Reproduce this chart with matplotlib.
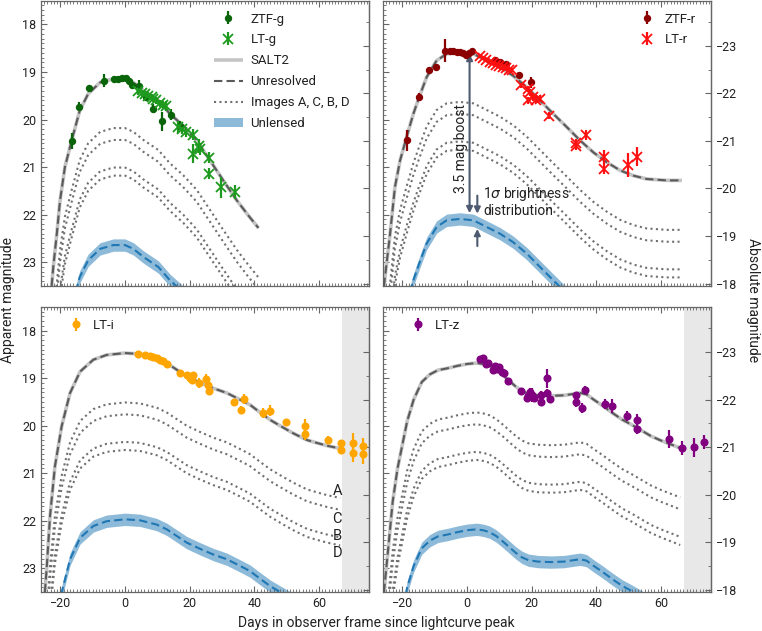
import numpy as np
import matplotlib
matplotlib.use('Agg')
import matplotlib.pyplot as plt
from matplotlib.ticker import MultipleLocator

plt.rcParams['font.family'] = ['Roboto', 'DejaVu Sans']
plt.rcParams['axes.unicode_minus'] = True

# ---- model curves (unresolved / SALT2) ----
g_day = [-22.7, -22.2, -21.1, -20.1, -18.6, -16.5, -14.0, -11.4, -7.7, -3.6, 0.0, 2.6, 5.7,
         10.3, 13.9, 18.0, 22.2, 26.3, 30.4, 34.6, 38.2, 41.3]
g_mag = [23.5, 23.1, 22.4, 21.7, 21.0, 20.44, 19.81, 19.46, 19.22, 19.14, 19.14, 19.22, 19.39,
         19.6, 19.88, 20.13, 20.44, 20.86, 21.28, 21.7, 22.02, 22.28]

r_day = [-25.7, -23.8, -22.3, -20.7, -18.7, -16.6, -14.8, -12.5, -9.4, -6.3, -2.2, 2.0, 6.1,
         10.2, 14.3, 18.5, 22.6, 26.7, 30.9, 35.0, 39.1, 43.3, 47.4, 51.5, 55.6, 61.8, 66.5]
r_mag = [23.5, 22.4, 21.42, 20.86, 20.37, 19.88, 19.53, 19.11, 18.76, 18.62, 18.59, 18.62, 18.76,
         18.9, 19.08, 19.32, 19.6, 19.88, 20.16, 20.44, 20.69, 20.9, 21.07, 21.18, 21.25, 21.28, 21.28]

i_day = [-24.8, -24.2, -23.2, -21.7, -19.6, -17.0, -13.9, -9.8, -5.7, 0.0, 4.6, 9.8, 12.9,
         16.0, 19.1, 23.2, 27.3, 31.5, 35.6, 38.7, 41.8, 45.0, 49.0, 52.1, 56.3, 59.3, 62.5, 66.6]
i_mag = [23.5, 22.96, 21.9, 20.86, 20.01, 19.31, 18.86, 18.61, 18.51, 18.47, 18.49, 18.58, 18.68,
         18.82, 18.96, 19.09, 19.21, 19.31, 19.45, 19.56, 19.72, 19.88, 20.04, 20.16, 20.3, 20.36,
         20.42, 20.48]

z_day = [-25.7, -24.4, -23.0, -21.5, -20.0, -18.5, -16.5, -14.0, -11.5, -9.0, -6.0, -3.0, 0.0,
         3.0, 5.0, 7.0, 9.0, 11.0, 13.0, 15.0, 17.0, 19.0, 22.0, 26.0, 30.0, 33.0, 35.0, 37.0,
         39.0, 42.0, 45.0, 48.0, 51.0, 54.0, 57.0, 60.0, 63.0, 66.0]
z_mag = [23.5, 22.6, 21.6, 20.9, 20.4, 19.9, 19.45, 19.08, 18.92, 18.83, 18.79, 18.74, 18.7,
         18.68, 18.7, 18.74, 18.82, 18.93, 19.05, 19.17, 19.27, 19.33, 19.36, 19.37, 19.36, 19.33,
         19.31, 19.34, 19.44, 19.58, 19.73, 19.87, 19.98, 20.1, 20.22, 20.31, 20.39, 20.47]

# images A, C, B, D are fainter than the unresolved curve by these amounts
image_names = ['A', 'C', 'B', 'D']
image_offsets = [1.04, 1.29, 1.87, 2.04]
image_label_day = 65.7
image_label_mag = [21.38, 21.96, 22.33, 22.68]
lens_boost = 3.5      # mag boost, unresolved -> unlensed
lens_sigma = 0.13     # 1 sigma brightness spread
dist_offset = 41.45   # apparent - absolute

# ---- photometry ----
ztf_g_day = [-16.3, -14.2, -11.2, -6.4, -3.5, -2.3, -1.0, 0.3, 1.3, 2.2, 4.4, 6.5, 8.6, 11.4, 14.3, 17.0]
ztf_g_mag = [20.46, 19.73, 19.34, 19.18, 19.14, 19.14, 19.12, 19.13, 19.18, 19.28, 19.29, 19.53,
             19.77, 20.04, 19.9, 20.13]
ztf_g_err = [0.17, 0.1, 0.07, 0.14, 0.06, 0.05, 0.05, 0.05, 0.05, 0.06, 0.12, 0.08, 0.1, 0.2, 0.12, 0.1]

lt_g_day = [4.1, 5.2, 6.2, 7.2, 8.2, 8.7, 9.7, 10.8, 11.8, 12.6, 16.5, 17.5, 19.0, 21.0, 23.0,
            23.2, 21.0, 26.0, 26.0, 29.8, 34.0]
lt_g_mag = [19.4, 19.45, 19.46, 19.5, 19.53, 19.56, 19.6, 19.66, 19.7, 19.72, 20.16, 20.2, 20.26,
            20.32, 20.55, 20.62, 20.72, 20.8, 21.14, 21.42, 21.53]
lt_g_err = [0.08, 0.07, 0.07, 0.08, 0.07, 0.08, 0.08, 0.08, 0.08, 0.1, 0.12, 0.1, 0.1, 0.12, 0.15,
            0.12, 0.2, 0.12, 0.12, 0.22, 0.15]

ztf_r_day = [-18.7, -14.8, -11.7, -9.7, -6.8, -5.3, -4.2, -3.2, -2.2, -1.1, -0.3, 0.6, 1.5, 8.7,
             10.2, 12.0, 16.1, 19.9]
ztf_r_mag = [20.44, 19.53, 18.95, 18.9, 18.55, 18.56, 18.56, 18.57, 18.58, 18.61, 18.64, 18.6,
             18.56, 18.75, 18.78, 18.83, 19.06, 19.22]
ztf_r_err = [0.22, 0.08, 0.05, 0.07, 0.25, 0.03, 0.03, 0.03, 0.03, 0.03, 0.03, 0.03, 0.03, 0.04,
             0.04, 0.04, 0.06, 0.12]

lt_r_day = [4.0, 5.0, 6.0, 7.0, 8.0, 9.0, 10.0, 11.0, 12.0, 13.0, 14.0, 16.7, 18.8, 19.4, 18.8,
            20.5, 21.5, 22.5, 25.5, 33.7, 33.7, 36.7, 42.5, 42.5, 49.7, 52.5]
lt_r_mag = [18.66, 18.7, 18.74, 18.78, 18.82, 18.85, 18.87, 18.9, 18.92, 18.95, 18.96, 19.28, 19.36,
            19.43, 19.6, 19.53, 19.58, 19.56, 19.92, 20.5, 20.55, 20.33, 20.78, 21.03, 20.95, 20.78]
lt_r_err = [0.04, 0.04, 0.04, 0.04, 0.04, 0.04, 0.04, 0.04, 0.04, 0.04, 0.04, 0.05, 0.06, 0.07,
            0.08, 0.08, 0.07, 0.07, 0.07, 0.08, 0.09, 0.1, 0.14, 0.12, 0.25, 0.2]

lt_i_day = [4.1, 6.2, 7.7, 8.8, 9.8, 10.8, 11.9, 12.9, 17.0, 19.1, 20.1, 20.9, 20.6, 23.0, 25.1,
            25.8, 25.9, 33.8, 35.9, 36.9, 42.8, 44.9, 49.7, 55.7, 55.7, 62.7, 66.7, 66.7, 70.5,
            70.5, 73.6, 73.6]
lt_i_mag = [18.49, 18.51, 18.54, 18.56, 18.58, 18.61, 18.63, 18.7, 18.89, 18.93, 19.0, 18.94,
            19.03, 19.1, 19.02, 19.15, 19.26, 19.5, 19.66, 19.44, 19.73, 19.68, 19.93, 20.0, 20.18,
            20.29, 20.37, 20.52, 20.36, 20.57, 20.43, 20.6]
lt_i_err = [0.03, 0.03, 0.03, 0.03, 0.03, 0.03, 0.03, 0.03, 0.05, 0.06, 0.08, 0.08, 0.08, 0.1,
            0.1, 0.08, 0.08, 0.07, 0.07, 0.1, 0.1, 0.12, 0.08, 0.15, 0.12, 0.08, 0.08, 0.08, 0.2,
            0.2, 0.18, 0.2]

lt_z_day = [4.0, 4.8, 5.9, 6.6, 8.2, 8.7, 9.4, 10.0, 10.7, 11.5, 12.8, 16.6, 18.7, 19.0, 19.5,
            20.0, 20.6, 22.8, 22.8, 24.9, 24.9, 25.7, 33.7, 33.7, 35.7, 36.6, 42.7, 44.8, 49.4,
            52.5, 52.5, 62.5, 66.5, 70.4, 73.5]
lt_z_mag = [18.59, 18.57, 18.7, 18.68, 18.82, 18.75, 18.8, 18.77, 18.86, 18.9, 19.06, 19.26, 19.42,
            19.37, 19.3, 19.35, 19.42, 19.35, 19.49, 19.0, 19.31, 19.44, 19.36, 19.5, 19.63, 19.24,
            19.54, 19.59, 19.8, 19.87, 20.07, 20.28, 20.47, 20.45, 20.34]
lt_z_err = [0.05, 0.05, 0.05, 0.05, 0.06, 0.05, 0.05, 0.05, 0.05, 0.05, 0.06, 0.06, 0.08, 0.08,
            0.1, 0.15, 0.08, 0.08, 0.06, 0.2, 0.08, 0.06, 0.07, 0.1, 0.1, 0.08, 0.1, 0.15, 0.1,
            0.12, 0.1, 0.18, 0.15, 0.2, 0.15]

XLIM = (-26.0, 75.5)
YLIM = (23.5, 17.5)
SHADE_START = 67.2
TXT = '#222222'
FRAME = '#666666'
BLUE = '#1f77b4'

fig = plt.figure(figsize=(7.62, 6.31), dpi=100)
ax_g = fig.add_axes([0.0538, 0.5468, 0.4304, 0.4522])
ax_r = fig.add_axes([0.5026, 0.5468, 0.4304, 0.4522])
ax_i = fig.add_axes([0.0538, 0.0618, 0.4304, 0.4517])
ax_z = fig.add_axes([0.5026, 0.0618, 0.4304, 0.4517])


def draw_models(ax, day, mag):
    day = np.array(day)
    mag = np.array(mag)
    ax.plot(day, mag, color='#c4c4c4', lw=2.6, solid_capstyle='butt', zorder=2, label='SALT2')
    ax.plot(day, mag, color='#5a5a5a', lw=1.5, ls=(0, (4, 2)), zorder=3, label='Unresolved')
    for k, off in enumerate(image_offsets):
        ax.plot(day, mag + off, color='#707070', lw=1.5, ls=(0, (1, 1.6)), zorder=2,
                label='Images A, C, B, D' if k == 0 else None)
    ax.fill_between(day, mag + lens_boost - lens_sigma, mag + lens_boost + lens_sigma,
                    color=BLUE, alpha=0.5, lw=0, zorder=1, label='Unlensed')
    ax.plot(day, mag + lens_boost, color=BLUE, lw=1.5, ls=(0, (4, 2)), zorder=2)


def data(ax, day, mag, err, color, marker, label, ms):
    return ax.errorbar(day, mag, yerr=err, fmt=marker, color=color, ms=ms, mew=1.3,
                       elinewidth=1.6, capsize=0, zorder=5, label=label)


def style(ax, left_col, top_row):
    ax.set_xlim(*XLIM)
    ax.set_ylim(*YLIM)
    ax.xaxis.set_major_locator(MultipleLocator(20))
    ax.xaxis.set_minor_locator(MultipleLocator(1))
    ax.yaxis.set_minor_locator(MultipleLocator(0.1))
    ax.set_yticks([18, 19, 20, 21, 22, 23])
    ax.tick_params(which='both', direction='in', top=True, right=False, color=FRAME,
                   labelcolor=TXT, labelsize=9)
    ax.tick_params(which='major', length=4)
    ax.tick_params(which='minor', length=2)
    if top_row:
        ax.tick_params(labelbottom=False)
    if not left_col:
        ax.tick_params(labelleft=False)
    for sp in ax.spines.values():
        sp.set_color(FRAME)
        sp.set_linewidth(0.9)
    sec = ax.secondary_yaxis('right', functions=(lambda m: m - dist_offset,
                                                 lambda a: a + dist_offset))
    sec.set_yticks([-23, -22, -21, -20, -19, -18])
    sec.yaxis.set_minor_locator(MultipleLocator(0.5))
    sec.tick_params(which='both', direction='in', color=FRAME, labelcolor=TXT, labelsize=9)
    sec.tick_params(which='major', length=4)
    sec.tick_params(which='minor', length=2)
    sec.spines['right'].set_color(FRAME)
    sec.spines['right'].set_linewidth(0.9)
    if left_col:
        sec.tick_params(labelright=False)


# g band
draw_models(ax_g, g_day, g_mag)
data(ax_g, ztf_g_day, ztf_g_mag, ztf_g_err, '#0a640a', 'o', 'ZTF-g', 4)
data(ax_g, lt_g_day, lt_g_mag, lt_g_err, '#1e9a1e', 'x', 'LT-g', 6.5)
hs, ls = ax_g.get_legend_handles_labels()
order = ['ZTF-g', 'LT-g', 'SALT2', 'Unresolved', 'Images A, C, B, D', 'Unlensed']
hmap = dict(zip(ls, hs))
ax_g.legend([hmap[o] for o in order], order, loc='upper left', bbox_to_anchor=(0.49, 1.0),
            frameon=False, fontsize=9.5, handlelength=2.2, labelspacing=0.6,
            handletextpad=0.6, labelcolor=TXT)

# r band
draw_models(ax_r, r_day, r_mag)
data(ax_r, ztf_r_day, ztf_r_mag, ztf_r_err, '#8b0000', 'o', 'ZTF-r', 4)
data(ax_r, lt_r_day, lt_r_mag, lt_r_err, '#ff1010', 'x', 'LT-r', 6.5)
hs, ls = ax_r.get_legend_handles_labels()
hmap = dict(zip(ls, hs))
ax_r.legend([hmap['ZTF-r'], hmap['LT-r']], ['ZTF-r', 'LT-r'], loc='upper left',
            bbox_to_anchor=(0.73, 1.0), frameon=False, fontsize=9.5, labelspacing=0.6,
            handletextpad=0.3, labelcolor=TXT)

ARROW = '#4d5a70'
ax_r.annotate('', xy=(0.8, 21.97), xytext=(0.8, 18.62),
              arrowprops=dict(arrowstyle='<|-|>', color=ARROW, lw=1.5, shrinkA=0, shrinkB=0,
                              mutation_scale=9))
ax_r.text(-1.8, 20.6, '3.5 mag boost', rotation=90, ha='center', va='center', fontsize=10,
          color=TXT)
ax_r.annotate('', xy=(3.2, 21.98), xytext=(3.2, 21.6),
              arrowprops=dict(arrowstyle='-|>', color=ARROW, lw=1.5, shrinkA=0, shrinkB=0,
                              mutation_scale=9))
ax_r.annotate('', xy=(3.2, 22.3), xytext=(3.2, 22.66),
              arrowprops=dict(arrowstyle='-|>', color=ARROW, lw=1.5, shrinkA=0, shrinkB=0,
                              mutation_scale=9))
ax_r.text(5.0, 21.72, '1$\\sigma$ brightness\ndistribution', ha='left', va='center',
          fontsize=10, color=TXT, linespacing=1.1)

# i band
ax_i.axvspan(SHADE_START, XLIM[1], color='#e8e8e8', lw=0, zorder=0)
draw_models(ax_i, i_day, i_mag)
data(ax_i, lt_i_day, lt_i_mag, lt_i_err, '#ffa500', 'o', 'LT-i', 4.5)
hs, ls = ax_i.get_legend_handles_labels()
hmap = dict(zip(ls, hs))
ax_i.legend([hmap['LT-i']], ['LT-i'], loc='upper left', bbox_to_anchor=(0.03, 1.0),
            frameon=False, fontsize=9.5, handletextpad=0.3, labelcolor=TXT)
for name, ym in zip(image_names, image_label_mag):
    ax_i.text(image_label_day, ym, name, ha='center', va='center', fontsize=10.5, color=TXT,
              zorder=6)

# z band
ax_z.axvspan(SHADE_START, XLIM[1], color='#e8e8e8', lw=0, zorder=0)
draw_models(ax_z, z_day, z_mag)
data(ax_z, lt_z_day, lt_z_mag, lt_z_err, '#800080', 'o', 'LT-z', 4.5)
hs, ls = ax_z.get_legend_handles_labels()
hmap = dict(zip(ls, hs))
ax_z.legend([hmap['LT-z']], ['LT-z'], loc='upper left', bbox_to_anchor=(0.03, 1.0),
            frameon=False, fontsize=9.5, handletextpad=0.3, labelcolor=TXT)

style(ax_g, True, True)
style(ax_r, False, True)
style(ax_i, True, False)
style(ax_z, False, False)

fig.text(0.011, 0.5246, 'Apparent magnitude', rotation=90, ha='center', va='center',
         fontsize=10, color=TXT)
fig.text(0.988, 0.5246, 'Absolute magnitude', rotation=270, ha='center', va='center',
         fontsize=10, color=TXT)
fig.text(0.494, 0.013, 'Days in observer frame since lightcurve peak', ha='center',
         va='center', fontsize=10, color=TXT)

fig.savefig('out.png', dpi=100)
